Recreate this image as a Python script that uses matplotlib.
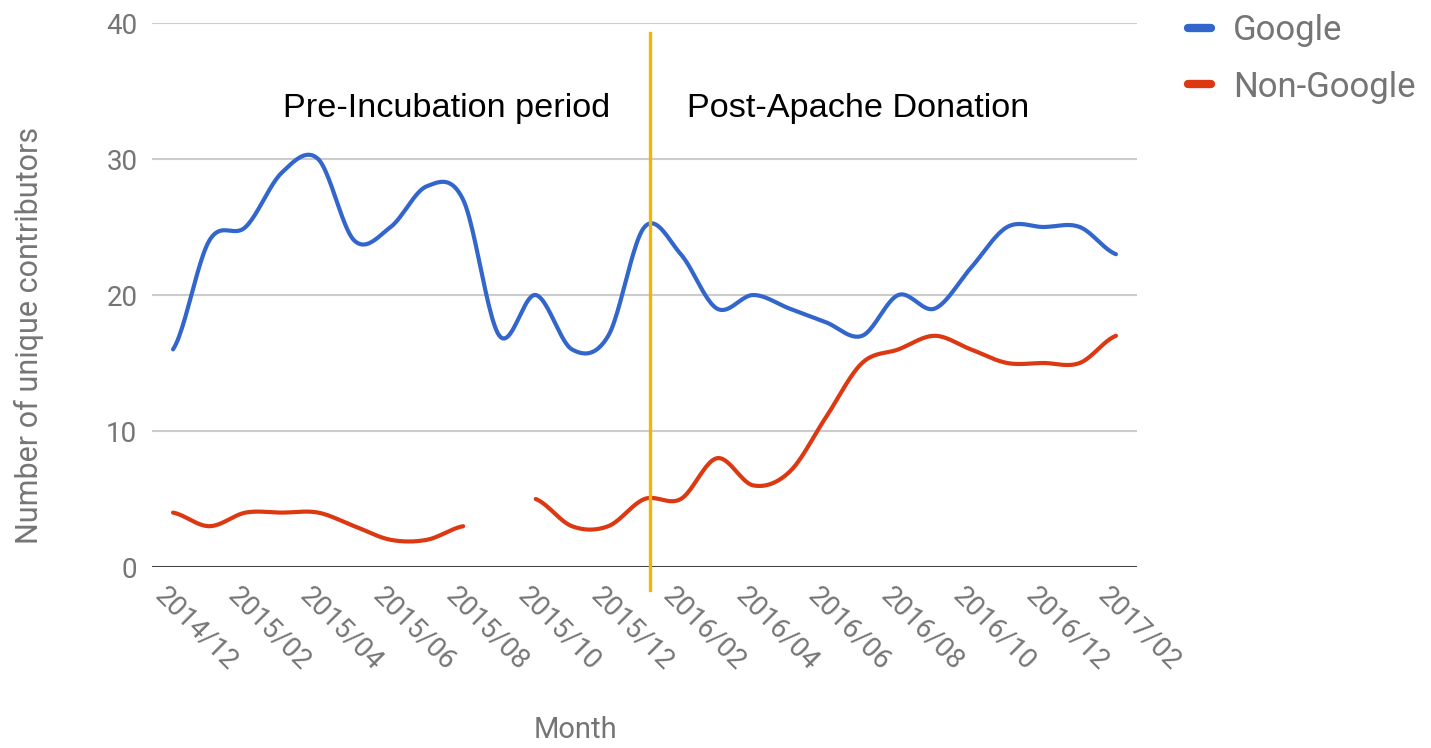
import numpy as np
import matplotlib
matplotlib.use("Agg")
import matplotlib.pyplot as plt
from matplotlib.transforms import ScaledTranslation

months = ["2014/12", "2015/01", "2015/02", "2015/03", "2015/04", "2015/05", "2015/06",
          "2015/07", "2015/08", "2015/09", "2015/10", "2015/11", "2015/12", "2016/01",
          "2016/02", "2016/03", "2016/04", "2016/05", "2016/06", "2016/07", "2016/08",
          "2016/09", "2016/10", "2016/11", "2016/12", "2017/01", "2017/02"]
google = [16, 24, 25, 29, 30, 24, 25, 28, 27, 17, 20, 16, 17, 25,
          23, 19, 20, 19, 18, 17, 20, 19, 22, 25, 25, 25, 23]
non_google = [4, 3, 4, 4, 4, 3, 2, 2, 3, None, 5, 3, 3, 5,
              5, 8, 6, 7, 11, 15, 16, 17, 16, 15, 15, 15, 17]
yticks = [0, 10, 20, 30, 40]
divider_month = 13.15
periods = ["Pre-Incubation period", "Post-Apache Donation"]

BLUE = "#3366CC"
RED = "#DC3912"
GREY = "#757575"


def smooth(xs, ys, n=24, tension=0.5):
    """Cardinal-spline rendering of one continuous run of points."""
    xs = np.asarray(xs, float)
    ys = np.asarray(ys, float)
    if len(xs) < 3:
        return xs, ys
    px = np.concatenate([[2 * xs[0] - xs[1]], xs, [2 * xs[-1] - xs[-2]]])
    py = np.concatenate([[ys[0]], ys, [ys[-1]]])
    ox, oy = [], []
    for i in range(1, len(px) - 2):
        t = np.linspace(0, 1, n, endpoint=False)
        m1x = tension * (px[i + 1] - px[i - 1]); m1y = tension * (py[i + 1] - py[i - 1])
        m2x = tension * (px[i + 2] - px[i]); m2y = tension * (py[i + 2] - py[i])
        h00 = 2 * t**3 - 3 * t**2 + 1
        h10 = t**3 - 2 * t**2 + t
        h01 = -2 * t**3 + 3 * t**2
        h11 = t**3 - t**2
        ox.append(h00 * px[i] + h10 * m1x + h01 * px[i + 1] + h11 * m2x)
        oy.append(h00 * py[i] + h10 * m1y + h01 * py[i + 1] + h11 * m2y)
    ox.append([xs[-1]]); oy.append([ys[-1]])
    return np.concatenate(ox), np.concatenate(oy)


def runs(values):
    out, cur = [], []
    for i, v in enumerate(values):
        if v is None:
            if cur:
                out.append(cur)
            cur = []
        else:
            cur.append((i, v))
    if cur:
        out.append(cur)
    return out


plt.rcParams["font.family"] = ["Roboto", "DejaVu Sans"]
fig = plt.figure(figsize=(14.31, 7.48), dpi=100)
AX_L, AX_R, AX_T, AX_B = 152, 1137, 23, 567
ax = fig.add_axes([AX_L / 1431, 1 - AX_B / 748, (AX_R - AX_L) / 1431, (AX_B - AX_T) / 748])

x = np.arange(len(months))
for series, color, label in [(google, BLUE, "Google"), (non_google, RED, "Non-Google")]:
    first = True
    for run in runs(series):
        rx, ry = zip(*run)
        sx, sy = smooth(rx, ry)
        ax.plot(sx, sy, color=color, lw=3.0, solid_capstyle="round",
                label=label if first else None, zorder=3)
        first = False

ax.set_xlim(-0.58, 26.58)
ax.set_ylim(0, 40)
ax.set_yticks(yticks)
ax.set_yticklabels([str(v) for v in yticks])
ax.set_xticks(x[::2])
ax.set_xticklabels(months[::2])
for s in ax.spines.values():
    s.set_visible(False)
ax.grid(axis="y", color="#cccccc", lw=1.5, zorder=0)
ax.axhline(0, color="#444444", lw=2.2, zorder=2)
ax.tick_params(axis="both", length=0, colors=GREY, labelsize=20)
ax.tick_params(axis="y", pad=10.5)
ax.tick_params(axis="x", pad=11)
offset = ScaledTranslation(-0.04, 0, fig.dpi_scale_trans)
for lab in ax.get_xticklabels():
    lab.set_rotation(-45)
    lab.set_ha("left")
    lab.set_va("top")
    lab.set_rotation_mode("anchor")
    lab.set_transform(lab.get_transform() + offset)

ylab = ax.set_ylabel("Number of unique contributors", color=GREY, fontsize=22)
ylab.set_va("center")
ax.yaxis.set_label_coords(-(AX_L - 29) / (AX_R - AX_L), (AX_B - 335) / (AX_B - AX_T))
xlab = ax.set_xlabel("Month", color=GREY, fontsize=21)
xlab.set_va("center")
ax.xaxis.set_label_coords((575 - AX_L) / (AX_R - AX_L), -(730 - AX_B) / (AX_B - AX_T))

ax.plot([divider_month, divider_month], [-1.7, 39.3], color="#F4B400", lw=2.4,
        clip_on=False, zorder=4)
ax.text(7.55, 33.7, periods[0], fontsize=24.7, family=["Liberation Sans", "DejaVu Sans"],
        color="black", ha="center", va="center")
ax.text(18.9, 33.7, periods[1], fontsize=24.7, family=["Liberation Sans", "DejaVu Sans"],
        color="black", ha="center", va="center")

leg = ax.legend(loc="upper left", bbox_to_anchor=(1188 / 1431, 1 - 14 / 748),
                bbox_transform=fig.transFigure, frameon=False, fontsize=25,
                handlelength=0.65, handletextpad=0.65, labelspacing=0.68,
                borderpad=0, borderaxespad=0)
for t in leg.get_texts():
    t.set_color(GREY)
for h in leg.get_lines():
    h.set_linewidth(6)
    h.set_solid_capstyle("round")

fig.savefig("out.png", dpi=100)
